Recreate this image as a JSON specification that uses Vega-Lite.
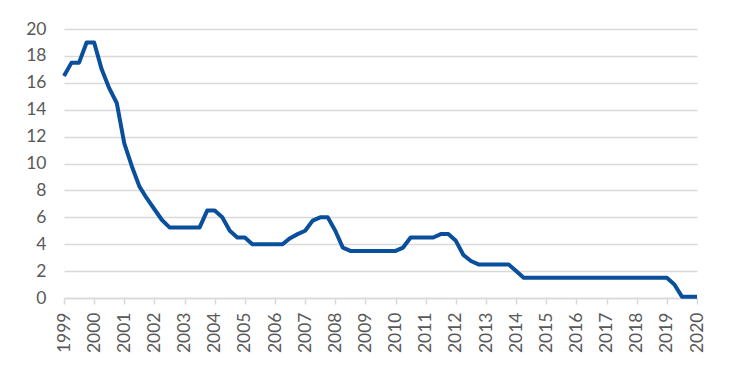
{
  "$schema": "https://vega.github.io/schema/vega-lite/v6.json",
  "autosize": "none",
  "width": 633,
  "height": 269,
  "padding": {"left": 64, "top": 29, "right": 40, "bottom": 84},
  "background": "white",
  "config": {"view": {"stroke": null}, "font": "Lato"},
  "data": {"values": [
    {"t": 1999.00, "v": 16.5}, {"t": 1999.25, "v": 17.5}, {"t": 1999.50, "v": 17.5}, {"t": 1999.75, "v": 19},
    {"t": 2000.00, "v": 19}, {"t": 2000.25, "v": 17}, {"t": 2000.50, "v": 15.6}, {"t": 2000.75, "v": 14.5},
    {"t": 2001.00, "v": 11.5}, {"t": 2001.25, "v": 9.8}, {"t": 2001.50, "v": 8.3}, {"t": 2001.75, "v": 7.4},
    {"t": 2002.00, "v": 6.6}, {"t": 2002.25, "v": 5.8}, {"t": 2002.50, "v": 5.25}, {"t": 2002.75, "v": 5.25},
    {"t": 2003.00, "v": 5.25}, {"t": 2003.25, "v": 5.25}, {"t": 2003.50, "v": 5.25}, {"t": 2003.75, "v": 6.5},
    {"t": 2004.00, "v": 6.5}, {"t": 2004.25, "v": 6.0}, {"t": 2004.50, "v": 5.0}, {"t": 2004.75, "v": 4.5},
    {"t": 2005.00, "v": 4.5}, {"t": 2005.25, "v": 4.0}, {"t": 2005.50, "v": 4.0}, {"t": 2005.75, "v": 4.0},
    {"t": 2006.00, "v": 4.0}, {"t": 2006.25, "v": 4.0}, {"t": 2006.50, "v": 4.45}, {"t": 2006.75, "v": 4.75},
    {"t": 2007.00, "v": 5.0}, {"t": 2007.25, "v": 5.75}, {"t": 2007.50, "v": 6.0}, {"t": 2007.75, "v": 6.0},
    {"t": 2008.00, "v": 5.0}, {"t": 2008.25, "v": 3.75}, {"t": 2008.50, "v": 3.5}, {"t": 2008.75, "v": 3.5},
    {"t": 2009.00, "v": 3.5}, {"t": 2009.25, "v": 3.5}, {"t": 2009.50, "v": 3.5}, {"t": 2009.75, "v": 3.5},
    {"t": 2010.00, "v": 3.5}, {"t": 2010.25, "v": 3.75}, {"t": 2010.50, "v": 4.5}, {"t": 2010.75, "v": 4.5},
    {"t": 2011.00, "v": 4.5}, {"t": 2011.25, "v": 4.5}, {"t": 2011.50, "v": 4.75}, {"t": 2011.75, "v": 4.75},
    {"t": 2012.00, "v": 4.25}, {"t": 2012.25, "v": 3.2}, {"t": 2012.50, "v": 2.75}, {"t": 2012.75, "v": 2.5},
    {"t": 2013.00, "v": 2.5}, {"t": 2013.25, "v": 2.5}, {"t": 2013.50, "v": 2.5}, {"t": 2013.75, "v": 2.5},
    {"t": 2014.00, "v": 2.0}, {"t": 2014.25, "v": 1.5}, {"t": 2014.50, "v": 1.5}, {"t": 2014.75, "v": 1.5},
    {"t": 2015.00, "v": 1.5}, {"t": 2015.25, "v": 1.5}, {"t": 2015.50, "v": 1.5}, {"t": 2015.75, "v": 1.5},
    {"t": 2016.00, "v": 1.5}, {"t": 2016.25, "v": 1.5}, {"t": 2016.50, "v": 1.5}, {"t": 2016.75, "v": 1.5},
    {"t": 2017.00, "v": 1.5}, {"t": 2017.25, "v": 1.5}, {"t": 2017.50, "v": 1.5}, {"t": 2017.75, "v": 1.5},
    {"t": 2018.00, "v": 1.5}, {"t": 2018.25, "v": 1.5}, {"t": 2018.50, "v": 1.5}, {"t": 2018.75, "v": 1.5},
    {"t": 2019.00, "v": 1.5}, {"t": 2019.25, "v": 1.0}, {"t": 2019.50, "v": 0.1}, {"t": 2019.75, "v": 0.1},
    {"t": 2020.00, "v": 0.1}
  ]},
  "mark": {"type": "line", "color": "#0a4f9c", "strokeWidth": 4, "strokeJoin": "round"},
  "encoding": {
    "x": {
      "field": "t", "type": "quantitative",
      "scale": {"domain": [1999, 2020], "nice": false, "zero": false},
      "axis": {
        "title": null, "values": [1999,2000,2001,2002,2003,2004,2005,2006,2007,2008,2009,2010,2011,2012,2013,2014,2015,2016,2017,2018,2019,2020],
        "format": "d", "grid": false, "labelAngle": 270, "labelAlign": "right", "labelBaseline": "middle",
        "labelFontSize": 17.5, "labelColor": "#595959", "labelPadding": 8,
        "domainColor": "#d9d9d9", "domainWidth": 1.5, "tickColor": "#d9d9d9", "tickWidth": 1.5, "tickSize": 6
      }
    },
    "y": {
      "field": "v", "type": "quantitative",
      "scale": {"domain": [0, 20], "nice": false},
      "axis": {
        "title": null, "values": [0,2,4,6,8,10,12,14,16,18,20],
        "domain": false, "ticks": false, "gridColor": "#d9d9d9", "gridWidth": 1.5,
        "labelFontSize": 17.5, "labelColor": "#595959", "labelPadding": 18
      }
    }
  }
}
